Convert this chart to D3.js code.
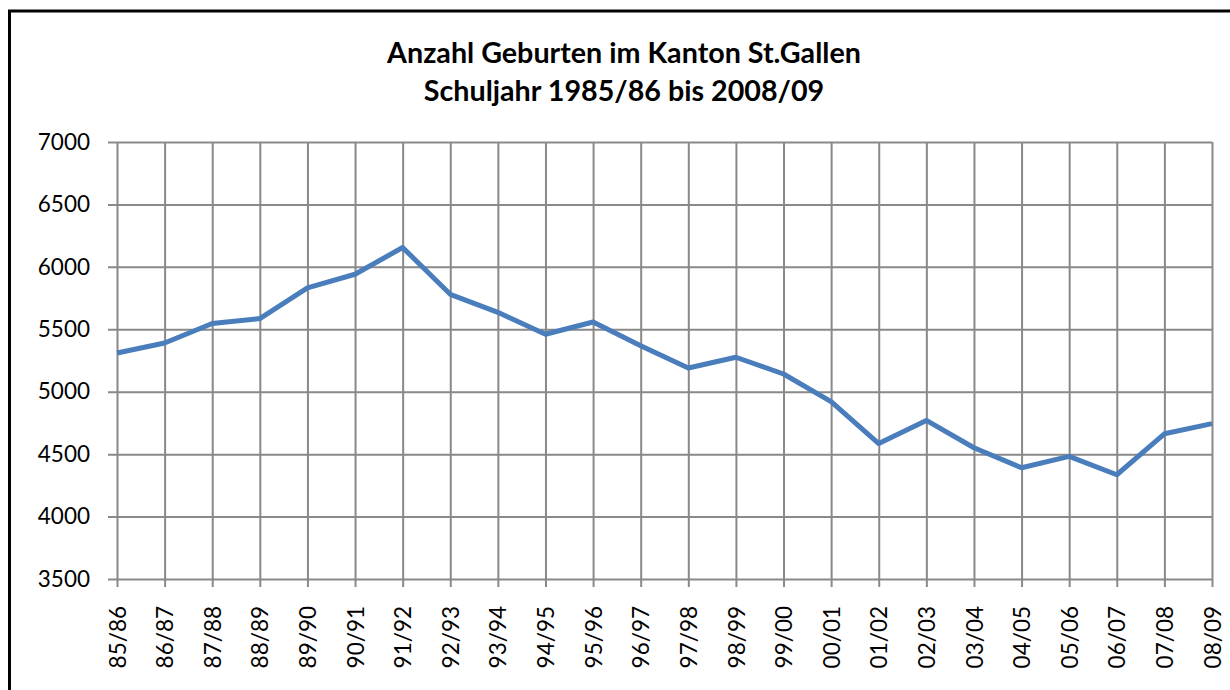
<!DOCTYPE html>
<html><head><meta charset="utf-8">
<script src="https://cdn.jsdelivr.net/npm/d3@7"></script>
<style>html,body{margin:0;padding:0;background:#fff;}svg{display:block;}</style>
</head><body>
<svg id="c" width="1230" height="690"></svg>
<script>
const categories = ["85/86","86/87","87/88","88/89","89/90","90/91","91/92","92/93","93/94","94/95","95/96","96/97","97/98","98/99","99/00","00/01","01/02","02/03","03/04","04/05","05/06","06/07","07/08","08/09"];
const births = [5310,5390,5546,5586,5831,5941,6155,5780,5636,5460,5558,5369,5190,5276,5142,4920,4585,4770,4551,4391,4482,4335,4663,4744];
const yTicks = [3500,4000,4500,5000,5500,6000,6500,7000];
const titleLines = ["Anzahl Geburten im Kanton St.Gallen","Schuljahr 1985/86 bis 2008/09"];

(function(){
const svg = d3.select("#c");
const font = "Lato, 'Open Sans', sans-serif";
const pL = 117, pR = 1212, pT = 142, pB = 579;

svg.append("rect").attr("x",9.5).attr("y",11).attr("width",1240).attr("height",700)
  .attr("fill","none").attr("stroke","#000").attr("stroke-width",3);

const x = d3.scalePoint().domain(categories).range([pL,pR]);
const y = d3.scaleLinear().domain([3500,7000]).range([pB,pT]);

const grid = "#898989";
const yAxis = d3.axisLeft(y).tickValues(yTicks).tickSize(pR-pL+9).tickSizeOuter(0).tickPadding(18).tickFormat(d3.format("d"));
const gy = svg.append("g").attr("transform",`translate(${pR},0)`).call(yAxis);
gy.select(".domain").remove();
gy.selectAll(".tick line").attr("stroke",grid).attr("stroke-width",2);
gy.selectAll(".tick text").attr("font-family",font).attr("font-size",22.5).attr("fill","#000")
  .attr("x",-(pR-pL+9)-18);

const xAxis = d3.axisBottom(x).tickSize(0).tickSizeOuter(0);
const gx = svg.append("g").attr("transform",`translate(0,${pB})`).call(xAxis);
gx.select(".domain").remove();
gx.selectAll(".tick line").attr("stroke",grid).attr("stroke-width",2).attr("y1",-(pB-pT)).attr("y2",8);
gx.selectAll(".tick text").attr("font-family",font).attr("font-size",22.5).attr("fill","#000")
  .attr("transform","rotate(-90)").attr("text-anchor","end").attr("x",-27).attr("y",0).attr("dy","0.36em");

const line = d3.line().x((d,i)=>x(categories[i])).y(d=>y(d));
svg.append("path").datum(births).attr("d",line).attr("fill","none")
  .attr("stroke","#4a7dbb").attr("stroke-width",5).attr("stroke-linejoin","round").attr("stroke-linecap","butt");

const tcx = 624, tb = [63, 101];
const els = titleLines.map((t,i)=>svg.append("text").attr("x",tcx).attr("y",tb[i]).attr("text-anchor","middle")
    .attr("font-family",font).attr("font-weight","bold").attr("font-size",26).attr("fill","#000").text(t));
const w = els[0].node().getComputedTextLength();
const fs = 26*474/w;
els.forEach(e=>e.attr("font-size",fs));
})();
</script>
</body></html>
